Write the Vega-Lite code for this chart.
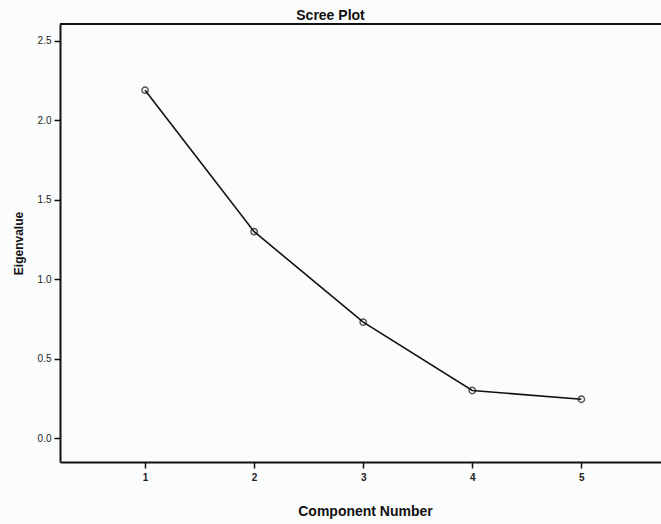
{
  "$schema": "https://vega.github.io/schema/vega-lite/v6.json",
  "width": 601,
  "height": 438,
  "autosize": {"type": "none"},
  "padding": {"left": 60, "top": 24, "right": 0, "bottom": 62},
  "background": "#fbfcfc",
  "title": {
    "text": "Scree Plot",
    "font": "Liberation Sans",
    "fontSize": 14,
    "fontWeight": "bold",
    "color": "#111",
    "anchor": "middle",
    "dx": -30,
    "offset": 0
  },
  "config": {
    "view": {"stroke": null},
    "axis": {
      "labelFont": "Liberation Sans",
      "titleFont": "Liberation Sans",
      "domainColor": "#111",
      "domainWidth": 2,
      "tickColor": "#111",
      "tickWidth": 1.5,
      "labelColor": "#222",
      "titleColor": "#111",
      "grid": false
    }
  },
  "data": {
    "values": [
      {"component": 1, "eigenvalue": 2.19},
      {"component": 2, "eigenvalue": 1.30},
      {"component": 3, "eigenvalue": 0.73},
      {"component": 4, "eigenvalue": 0.30},
      {"component": 5, "eigenvalue": 0.245}
    ]
  },
  "encoding": {
    "x": {
      "field": "component",
      "type": "quantitative",
      "scale": {"domain": [0.22, 5.73], "nice": false, "zero": false},
      "axis": {
        "values": [1, 2, 3, 4, 5],
        "format": "d",
        "title": "Component Number",
        "titleFontSize": 14,
        "titleFontWeight": "bold",
        "titlePadding": 22,
        "titleX": 305,
        "labelFontSize": 10,
        "labelFontWeight": "bold",
        "tickSize": 6,
        "labelPadding": 4
      }
    },
    "y": {
      "field": "eigenvalue",
      "type": "quantitative",
      "scale": {"domain": [-0.15, 2.607], "nice": false, "zero": false},
      "axis": {
        "values": [0, 0.5, 1, 1.5, 2, 2.5],
        "format": ".1f",
        "title": "Eigenvalue",
        "titleFontSize": 12,
        "titleFontWeight": "bold",
        "titlePadding": 12,
        "labelFontSize": 10,
        "tickSize": 6,
        "labelPadding": 3
      }
    }
  },
  "layer": [
    {
      "mark": {"type": "line", "color": "#111", "strokeWidth": 1.6}
    },
    {
      "mark": {"type": "point", "shape": "circle", "filled": false, "color": "#111", "size": 40, "strokeWidth": 1.5}
    },
    {
      "mark": {"type": "rule", "color": "#111", "strokeWidth": 2},
      "encoding": {
        "x": {"datum": 0.22, "type": "quantitative"},
        "x2": {"datum": 5.73},
        "y": {"datum": 2.607, "type": "quantitative"},
        "size": {"value": 2}
      }
    }
  ]
}
